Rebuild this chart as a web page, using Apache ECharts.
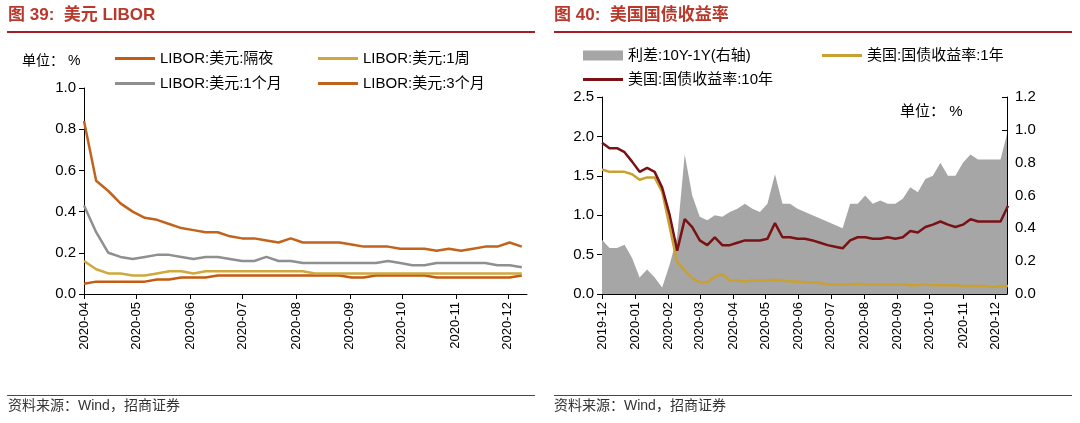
<!DOCTYPE html>
<html><head><meta charset="utf-8">
<script src="https://cdn.jsdelivr.net/npm/echarts@6/dist/echarts.min.js"></script>
<style>html,body{margin:0;padding:0;background:#fff}#c{width:1080px;height:423px}</style>
</head><body><div id="c"></div>
<script>
// Left chart: weekly, starting 2020-04-01
const leftStart = '2020-04-01';
const libor3M = [0.84,0.55,0.50,0.44,0.40,0.37,0.36,0.34,0.32,0.31,0.30,0.30,0.28,0.27,0.27,0.26,0.25,0.27,0.25,0.25,0.25,0.25,0.24,0.23,0.23,0.23,0.22,0.22,0.22,0.21,0.22,0.21,0.22,0.23,0.23,0.25,0.23];
const libor1M = [0.43,0.30,0.20,0.18,0.17,0.18,0.19,0.19,0.18,0.17,0.18,0.18,0.17,0.16,0.16,0.18,0.16,0.16,0.15,0.15,0.15,0.15,0.15,0.15,0.15,0.16,0.15,0.14,0.14,0.15,0.15,0.15,0.15,0.15,0.14,0.14,0.13];
const libor1W = [0.16,0.12,0.10,0.10,0.09,0.09,0.10,0.11,0.11,0.10,0.11,0.11,0.11,0.11,0.11,0.11,0.11,0.11,0.11,0.10,0.10,0.10,0.10,0.10,0.10,0.10,0.10,0.10,0.10,0.10,0.10,0.10,0.10,0.10,0.10,0.10,0.10];
const liborON = [0.05,0.06,0.06,0.06,0.06,0.06,0.07,0.07,0.08,0.08,0.08,0.09,0.09,0.09,0.09,0.09,0.09,0.09,0.09,0.09,0.09,0.09,0.08,0.08,0.09,0.09,0.09,0.09,0.09,0.08,0.08,0.08,0.08,0.08,0.08,0.08,0.09];
// Right chart: weekly, starting 2019-12-01
const rightStart = '2019-12-01';
const ust10Y = [1.92,1.85,1.85,1.80,1.68,1.55,1.60,1.55,1.35,1.00,0.55,0.95,0.85,0.68,0.62,0.72,0.62,0.62,0.65,0.68,0.68,0.68,0.70,0.90,0.72,0.72,0.70,0.70,0.68,0.65,0.62,0.60,0.58,0.68,0.72,0.72,0.70,0.70,0.72,0.70,0.72,0.80,0.78,0.85,0.88,0.92,0.88,0.85,0.88,0.95,0.92,0.92,0.92,0.92,1.12];
const ust1Y = [1.58,1.55,1.55,1.55,1.52,1.45,1.48,1.48,1.30,0.85,0.40,0.30,0.20,0.15,0.15,0.22,0.25,0.17,0.17,0.16,0.17,0.17,0.17,0.18,0.17,0.16,0.16,0.15,0.15,0.14,0.12,0.12,0.12,0.12,0.13,0.12,0.12,0.12,0.12,0.12,0.12,0.11,0.11,0.12,0.11,0.11,0.11,0.11,0.10,0.10,0.10,0.10,0.09,0.10,0.10];
const spread = [0.33,0.28,0.28,0.30,0.22,0.10,0.15,0.10,0.04,0.18,0.35,0.85,0.60,0.47,0.45,0.48,0.47,0.50,0.52,0.55,0.52,0.50,0.55,0.73,0.55,0.55,0.52,0.50,0.48,0.46,0.44,0.42,0.40,0.55,0.55,0.60,0.55,0.57,0.55,0.55,0.58,0.65,0.62,0.70,0.72,0.80,0.72,0.72,0.80,0.85,0.82,0.82,0.82,0.82,1.00];

const DAY = 86400000, WEEK = 7*DAY;
function pairs(start, arr){const t0=new Date(start+'T00:00:00Z').getTime();return arr.map((v,i)=>[t0+i*WEEK,v]);}
function fmt(v){const d=new Date(v);return d.getUTCFullYear()+'-'+String(d.getUTCMonth()+1).padStart(2,'0');}
const F = 'Arial, "Liberation Sans", "Noto Sans CJK SC", sans-serif';
const ax = {lineStyle:{color:'#000',width:1}};
function xAxis(idx,min,max){return {type:'time',gridIndex:idx,min:new Date(min+'T00:00:00Z').getTime(),max:new Date(max+'T00:00:00Z').getTime(),
  minInterval:28*DAY,maxInterval:31*DAY,axisLine:ax,axisTick:{lineStyle:{color:'#000'},length:5},splitLine:{show:false},
  axisLabel:{rotate:90,color:'#000',fontSize:13,fontFamily:F,formatter:fmt,hideOverlap:false,showMinLabel:true,showMaxLabel:false}};}
function yAxis(idx,max,interval,pos){return {type:'value',gridIndex:idx,min:0,max:max,interval:interval,position:pos||'left',
  axisLine:{show:true,lineStyle:{color:'#000'}},axisTick:{show:true,lineStyle:{color:'#000'},inside:pos==='right'},splitLine:{show:false},
  axisLabel:{color:'#000',fontSize:15,fontFamily:F,formatter:v=>v.toFixed(1)}};}
const txt = {fontFamily:F,fontSize:15,color:'#000'};
function lg(name,left,top,h){return {data:[name],left:left,top:top,itemWidth:40,itemHeight:h||3,textStyle:txt,icon:'rect'};}
const chart = echarts.init(document.getElementById('c'));
chart.setOption({
  animation:false,
  textStyle:{fontFamily:F},
  grid:[{left:84,right:553,top:88,bottom:129},{left:602,right:73,top:97,bottom:129}],
  xAxis:[xAxis(0,'2020-04-01','2020-12-12'),xAxis(1,'2019-12-01','2020-12-12')],
  yAxis:[yAxis(0,1.0,0.2),yAxis(1,2.5,0.5),yAxis(1,1.2,0.2,'right')],
  legend:[
    lg('LIBOR:美元:隔夜',110,46), lg('LIBOR:美元:1周',313,46),
    lg('LIBOR:美元:1个月',110,71), lg('LIBOR:美元:3个月',313,71),
    lg('利差:10Y-1Y(右轴)',578,43,10), lg('美国:国债收益率:1年',817,43),
    lg('美国:国债收益率:10年',578,67)
  ],
  series:[
    {name:'LIBOR:美元:隔夜',type:'line',xAxisIndex:0,yAxisIndex:0,data:pairs(leftStart,liborON),showSymbol:false,color:'#C55A11',lineStyle:{width:2.5}},
    {name:'LIBOR:美元:1周',type:'line',xAxisIndex:0,yAxisIndex:0,data:pairs(leftStart,libor1W),showSymbol:false,color:'#D1A83B',lineStyle:{width:2.5}},
    {name:'LIBOR:美元:1个月',type:'line',xAxisIndex:0,yAxisIndex:0,data:pairs(leftStart,libor1M),showSymbol:false,color:'#8F8F8F',lineStyle:{width:2.5}},
    {name:'LIBOR:美元:3个月',type:'line',xAxisIndex:0,yAxisIndex:0,data:pairs(leftStart,libor3M),showSymbol:false,color:'#C0631C',lineStyle:{width:2.5}},
    {name:'利差:10Y-1Y(右轴)',type:'line',xAxisIndex:1,yAxisIndex:2,data:pairs(rightStart,spread),showSymbol:false,color:'#A6A6A6',lineStyle:{width:0},areaStyle:{color:'#A6A6A6',opacity:1}},
    {name:'美国:国债收益率:1年',type:'line',xAxisIndex:1,yAxisIndex:1,data:pairs(rightStart,ust1Y),showSymbol:false,color:'#C9A032',lineStyle:{width:2.5}},
    {name:'美国:国债收益率:10年',type:'line',xAxisIndex:1,yAxisIndex:1,data:pairs(rightStart,ust10Y),showSymbol:false,color:'#7A1114',lineStyle:{width:2.5}}
  ],
  graphic:[
    {type:'text',left:8,top:7,style:{text:'图 39:  美元 LIBOR',fontSize:17,fontWeight:'bold',fill:'#B8392B',fontFamily:F}},
    {type:'text',left:554,top:7,style:{text:'图 40:  美国国债收益率',fontSize:17,fontWeight:'bold',fill:'#B8392B',fontFamily:F}},
    {type:'rect',shape:{x:7,y:31,width:528,height:2},style:{fill:'#A31F24'}},
    {type:'rect',shape:{x:554,y:31,width:518,height:2},style:{fill:'#A31F24'}},
    {type:'text',left:22,top:54,style:{text:'单位： %',fontSize:14,fill:'#000',fontFamily:F}},
    {type:'text',left:900,top:104,style:{text:'单位： %',fontSize:15,fill:'#000',fontFamily:F}},
    {type:'rect',shape:{x:7,y:395,width:528,height:1},style:{fill:'#A31F24'}},
    {type:'rect',shape:{x:554,y:395,width:518,height:1},style:{fill:'#A31F24'}},
    {type:'text',left:8,top:399,style:{text:'资料来源：Wind，招商证券',fontSize:14,fill:'#333',fontFamily:F}},
    {type:'text',left:554,top:399,style:{text:'资料来源：Wind，招商证券',fontSize:14,fill:'#333',fontFamily:F}}
  ]
});
</script></body></html>
